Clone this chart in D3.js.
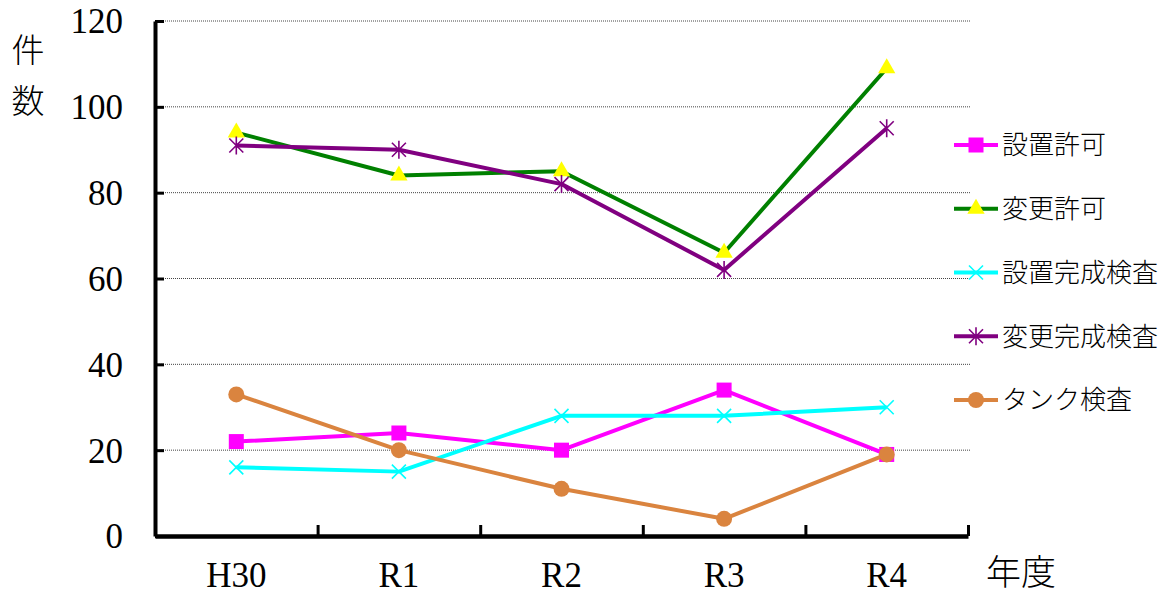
<!DOCTYPE html>
<html>
<head>
<meta charset="utf-8">
<script src="https://cdn.jsdelivr.net/npm/d3@7"></script>
<style>
  body { margin: 0; background: #fff; }
  svg { display: block; }
  text.serif { font-family: "Liberation Serif", "Times New Roman", Tinos, "DejaVu Serif", "Noto Serif", Times, serif; }
  text.cjk { font-family: "Noto Sans CJK JP", "Noto Sans", sans-serif; font-weight: 300; }
</style>
</head>
<body>
<div id="chart"></div>
<script>
const categories = ["H30", "R1", "R2", "R3", "R4"]
const yTicks = [0, 20, 40, 60, 80, 100, 120]
const seriesNames = ["設置許可", "変更許可", "設置完成検査", "変更完成検査", "タンク検査"]
const setupPermit = [22, 24, 20, 34, 19]
const changePermit = [94, 84, 85, 66, 109]
const setupInspection = [16, 15, 28, 28, 30]
const changeInspection = [91, 90, 82, 62, 95]
const tankInspection = [33, 20, 11, 4, 19]

const width = 1173
const height = 594
const plotLeft = 155
const plotRight = 968
const plotTop = 21
const plotBottom = 536

const styles = [
  { line: "#ff00ff", marker: "square", fill: "#ff00ff" },
  { line: "#008000", marker: "triangle", fill: "#ffff00" },
  { line: "#00ffff", marker: "cross", fill: "#00ffff" },
  { line: "#800080", marker: "asterisk", fill: "#800080" },
  { line: "#da843f", marker: "circle", fill: "#da843f" },
]
const seriesValues = [setupPermit, changePermit, setupInspection, changeInspection, tankInspection]
const series = seriesNames.map((name, i) => ({ name, values: seriesValues[i], ...styles[i] }))

const svg = d3.select("#chart").append("svg").attr("width", width).attr("height", height)

const x = d3.scaleBand().domain(categories).range([plotLeft, plotRight])
const xEdge = d3.scaleLinear().domain([0, categories.length]).range([plotLeft, plotRight])
const y = d3.scaleLinear().domain([0, 120]).range([plotBottom, plotTop])

// dotted gridlines
svg.append("g")
  .selectAll("line")
  .data(yTicks.filter((d) => d > 0))
  .join("line")
  .attr("x1", plotLeft)
  .attr("x2", plotRight + 2)
  .attr("y1", (d) => y(d))
  .attr("y2", (d) => y(d))
  .attr("stroke", "#444")
  .attr("stroke-width", 1)
  .attr("stroke-dasharray", "1,1")

// y axis
const yAxis = svg.append("g")
  .attr("transform", `translate(${plotLeft}, 0)`)
  .call(d3.axisLeft(y).tickValues(yTicks).tickSizeInner(-9).tickSizeOuter(0).tickPadding(32))
yAxis.attr("font-family", null).attr("font-size", null)
yAxis.select(".domain").attr("stroke", "#000").attr("stroke-width", 4)
yAxis.selectAll(".tick line").attr("stroke", "#000").attr("stroke-width", 3)
yAxis.selectAll(".tick text")
  .attr("class", "serif")
  .style("font-size", "35px")
  .attr("fill", "#000")
  .attr("dy", "0.34em")

// x axis: tick marks at band edges
const xTicks = svg.append("g")
  .attr("transform", `translate(0, ${plotBottom})`)
  .call(d3.axisBottom(xEdge).tickValues(d3.range(categories.length + 1)).tickSizeInner(-11).tickSizeOuter(0).tickFormat(""))
xTicks.select(".domain").attr("stroke", "#000").attr("stroke-width", 4.5)
xTicks.selectAll(".tick line").attr("stroke", "#000").attr("stroke-width", 3)

// x axis labels at band centres
const xLabels = svg.append("g")
  .attr("transform", `translate(0, ${plotBottom})`)
  .call(d3.axisBottom(x).tickSize(0).tickPadding(26))
xLabels.attr("font-family", null).attr("font-size", null)
xLabels.select(".domain").remove()
xLabels.selectAll(".tick text")
  .attr("class", "serif")
  .style("font-size", "35px")
  .attr("fill", "#000")

// axis titles
svg.append("text").attr("class", "cjk").attr("x", 28).attr("y", 62).attr("text-anchor", "middle")
  .style("font-size", "33px").text("件")
svg.append("text").attr("class", "cjk").attr("x", 28).attr("y", 113).attr("text-anchor", "middle")
  .style("font-size", "33px").text("数")
svg.append("text").attr("class", "cjk").attr("x", 986).attr("y", 585)
  .style("font-size", "35px").text("年度")

function drawMarker(g, s) {
  if (s.marker === "square") {
    g.append("rect").attr("x", -7.5).attr("y", -7.5).attr("width", 15).attr("height", 15).attr("fill", s.fill)
  } else if (s.marker === "triangle") {
    g.append("path").attr("d", d3.symbol(d3.symbolTriangle, 130)()).attr("fill", s.fill)
  } else if (s.marker === "circle") {
    g.append("circle").attr("r", 8).attr("fill", s.fill)
  } else if (s.marker === "cross") {
    g.append("path").attr("d", "M-7,-7L7,7M-7,7L7,-7").attr("stroke", s.fill).attr("stroke-width", 1.6).attr("fill", "none")
  } else if (s.marker === "asterisk") {
    g.append("path").attr("d", "M-7,-7L7,7M-7,7L7,-7M0,-9L0,9").attr("stroke", s.fill).attr("stroke-width", 1.6).attr("fill", "none")
  }
}

const line = d3.line()
  .x((d, i) => x(categories[i]) + x.bandwidth() / 2)
  .y((d) => y(d))

series.forEach((s) => {
  const g = svg.append("g")
  g.append("path")
    .datum(s.values)
    .attr("d", line)
    .attr("fill", "none")
    .attr("stroke", s.line)
    .attr("stroke-width", 4)
    .attr("stroke-linejoin", "round")
  s.values.forEach((v, i) => {
    const m = g.append("g").attr("transform", `translate(${x(categories[i]) + x.bandwidth() / 2}, ${y(v)})`)
    drawMarker(m, s)
  })
})

// legend
const legendY = d3.scaleLinear().domain([0, series.length - 1]).range([145, 400])
series.forEach((s, i) => {
  const g = svg.append("g").attr("transform", `translate(954, ${legendY(i)})`)
  g.append("line").attr("x1", 0).attr("x2", 44).attr("stroke", s.line).attr("stroke-width", 4)
  drawMarker(g.append("g").attr("transform", "translate(22, 0)"), s)
  g.append("text")
    .attr("class", "cjk")
    .attr("x", 48)
    .attr("dy", "0.36em")
    .style("font-size", "26px")
    .attr("fill", "#000")
    .text(s.name)
})
</script>
</body>
</html>
